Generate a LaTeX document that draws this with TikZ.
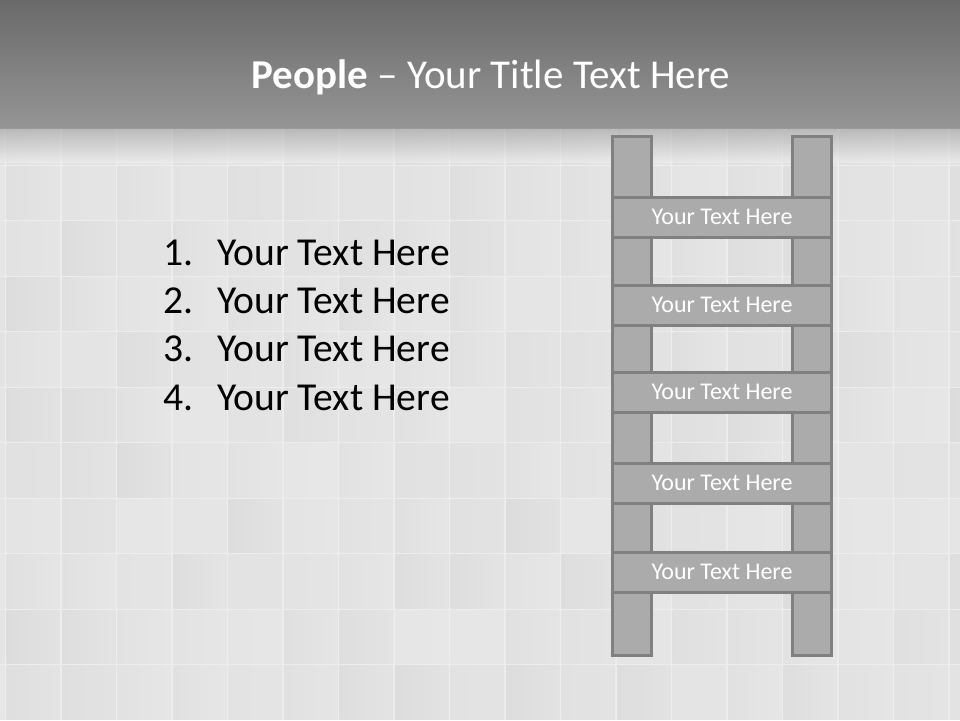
\documentclass[tikz,border=0pt]{standalone}
\usepackage{fontspec}
\setmainfont{Carlito}
\definecolor{railfill}{HTML}{ABABAB}
\definecolor{railedge}{HTML}{808080}
\definecolor{bartop}{HTML}{6A6A6A}
\definecolor{barbot}{HTML}{959595}
\definecolor{tilebg}{HTML}{EDEDED}
\begin{document}
\begin{tikzpicture}[x=1pt,y=-1pt,
  railbox/.style={draw=railedge,line width=3pt,fill=railfill},
  rungtext/.style={text=white,font=\fontsize{24}{28}\selectfont,inner sep=0pt},
  listtext/.style={text=black,font=\fontsize{39.6}{46}\selectfont,inner sep=0pt,anchor=base west},
  titletext/.style={text=white,font=\fontsize{41}{48}\selectfont,inner sep=0pt,anchor=base}]
\useasboundingbox (0,0) rectangle (960,720);
% background tiles
\fill[tilebg] (0,0) rectangle (960,720);
\pgfmathsetseed{7}
\foreach \i in {-1,...,17}{
  \foreach \j in {0,...,11}{
    \pgfmathsetmacro\xa{5.5+55.5*\i+1}
    \pgfmathsetmacro\ya{109.5+55.5*\j+1}
    \pgfmathsetmacro\xb{\xa+53.5}
    \pgfmathsetmacro\yb{\ya+53.5}
    \pgfmathsetmacro\sa{9.5+2*rnd}
    \pgfmathsetmacro\sb{\sa+2.5*rnd}
    \shade[left color=black!\sb!white,right color=black!\sa!white] (\xa,\ya) rectangle (\xb,\yb);
  }
}
% title bar
\shade[top color=bartop,bottom color=barbot] (0,0) rectangle (960,128);
\shade[top color=black!38!white,bottom color=tilebg,opacity=0.6] (0,128) rectangle (960,162);
\node[titletext] (title) at (491,88) {\textbf{People} – Your Title Text Here};
% list
\foreach \k/\yy in {1/265,2/313.3,3/361.6,4/410}{
  \node[listtext] (num\k) at (163,\yy) {\k.};
  \node[listtext] (item\k) at (217,\yy) {Your Text Here};
}
% ladder
\draw[railbox] (612.5,136.5) rectangle (651.5,655.5);
\draw[railbox] (792.5,136.5) rectangle (831.5,655.5);
\foreach \k/\yc in {1/217,2/305,3/392,4/483,5/572}{
  \draw[railbox] (612.5,\yc-20) rectangle (831.5,\yc+20);
  \node[rungtext] (rung\k) at (722,\yc) {Your Text Here};
}
\end{tikzpicture}
\end{document}
